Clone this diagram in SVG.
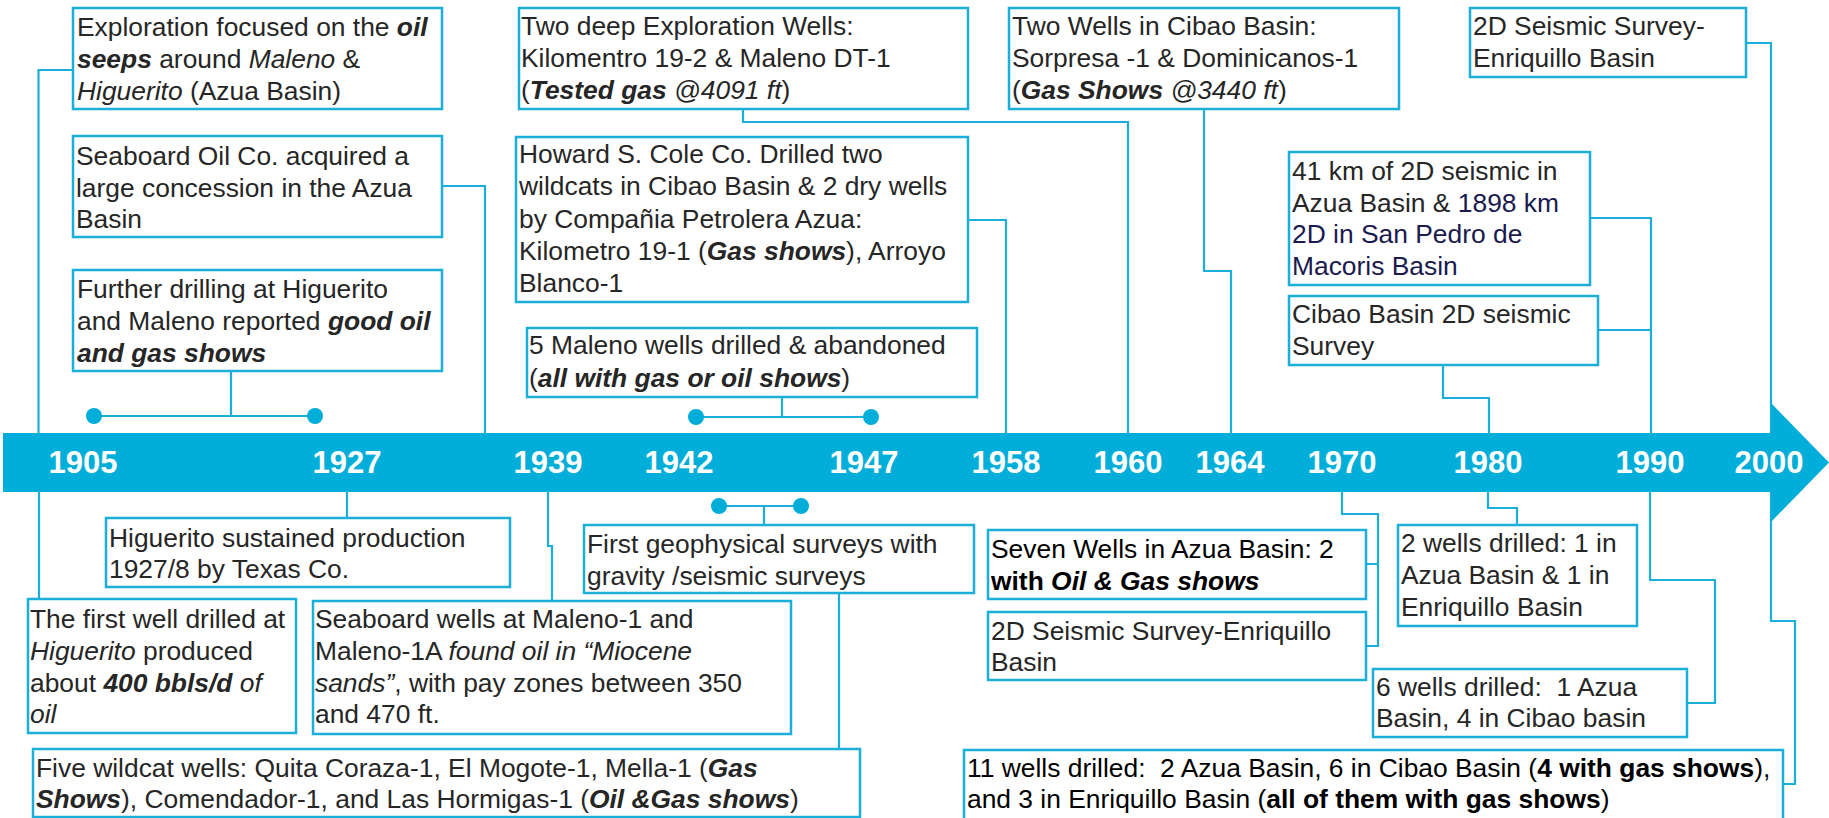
<svg xmlns="http://www.w3.org/2000/svg" width="1829" height="818" viewBox="0 0 1829 818">
<style>
.box{fill:#fff;stroke:#1AAFDB;stroke-width:2.5}
.ln{fill:none;stroke:#1AAFDB;stroke-width:2.2}
.dot{fill:#00AED9}
.t{font-family:"Liberation Sans",Arial,sans-serif;font-size:26.4px;fill:#262626;white-space:pre}
.k{fill:#000}
.i{font-style:italic}
.b{font-weight:bold}
.bi{font-weight:bold;font-style:italic}
.nv{fill:#1a1a50}
.yr{font-family:"Liberation Sans",Arial,sans-serif;font-size:31px;font-weight:bold;fill:#fff;text-anchor:middle}
</style>
<g id="connectors">
<path class="ln" d="M73,70 H38.5 V433"/>
<path class="ln" d="M442,186 H485 V433"/>
<path class="ln" d="M231,371 V416 M94,416 H315"/>
<path class="ln" d="M743,109 V122 H1128 V433"/>
<path class="ln" d="M968,220 H1006 V433"/>
<path class="ln" d="M782,397 V417 M696,417 H871"/>
<path class="ln" d="M1204,109 V271 H1231 V433"/>
<path class="ln" d="M1746,43 H1771 V621 H1795 V784 H1783"/>
<path class="ln" d="M1590,218 H1651 V433 M1598,330 H1651"/>
<path class="ln" d="M1443,365 V398 H1489 V433"/>
<path class="ln" d="M39,492 V599"/>
<path class="ln" d="M347,492 V518"/>
<path class="ln" d="M548,492 V546 H552 V601"/>
<path class="ln" d="M719,506 H801 M764,506 V525"/>
<path class="ln" d="M839,593 V749"/>
<path class="ln" d="M1342,492 V514 H1378 V646 H1366 M1378,564 H1366"/>
<path class="ln" d="M1488,492 V508 H1517 V525"/>
<path class="ln" d="M1650,492 V580 H1715 V703 H1687"/>
<circle class="dot" cx="94" cy="416" r="8"/>
<circle class="dot" cx="315" cy="416" r="8"/>
<circle class="dot" cx="696" cy="417" r="8"/>
<circle class="dot" cx="871" cy="417" r="8"/>
<circle class="dot" cx="719" cy="506" r="8"/>
<circle class="dot" cx="801" cy="506" r="8"/>
</g>
<g id="timeline">
<rect x="3" y="433" width="1770" height="59" fill="#00AED9"/>
<polygon points="1771,403 1829,462.5 1771,522" fill="#00AED9"/>
<text class="yr" x="83" y="473">1905</text>
<text class="yr" x="347" y="473">1927</text>
<text class="yr" x="548" y="473">1939</text>
<text class="yr" x="679" y="473">1942</text>
<text class="yr" x="864" y="473">1947</text>
<text class="yr" x="1006" y="473">1958</text>
<text class="yr" x="1128" y="473">1960</text>
<text class="yr" x="1230" y="473">1964</text>
<text class="yr" x="1342" y="473">1970</text>
<text class="yr" x="1488" y="473">1980</text>
<text class="yr" x="1650" y="473">1990</text>
<text class="yr" x="1769" y="473">2000</text>
</g>
<g id="n-exploration">
<rect class="box" x="73" y="8" width="369" height="101"/>
<text class="t" x="77" y="36">Exploration focused on the <tspan class="bi">oil</tspan></text>
<text class="t" x="77" y="68"><tspan class="bi">seeps</tspan> around <tspan class="i">Maleno</tspan> &amp;</text>
<text class="t" x="77" y="100"><tspan class="i">Higuerito</tspan> (Azua Basin)</text>
</g>
<g id="n-seaboard-oil">
<rect class="box" x="73" y="136" width="369" height="101"/>
<text class="t" x="76" y="165">Seaboard Oil Co. acquired a</text>
<text class="t" x="76" y="197">large concession in the Azua</text>
<text class="t" x="76" y="228">Basin</text>
</g>
<g id="n-further">
<rect class="box" x="73" y="270" width="369" height="101"/>
<text class="t" x="77" y="298">Further drilling at Higuerito</text>
<text class="t" x="77" y="330">and Maleno reported <tspan class="bi">good oil</tspan></text>
<text class="t" x="77" y="362"><tspan class="bi">and gas shows</tspan></text>
</g>
<g id="n-two-deep">
<rect class="box" x="519" y="8" width="449" height="101"/>
<text class="t" x="521" y="35">Two deep Exploration Wells:</text>
<text class="t" x="521" y="67">Kilomentro 19-2 &amp; Maleno DT-1</text>
<text class="t" x="521" y="99">(<tspan class="bi">Tested gas</tspan> <tspan class="i">@4091 ft</tspan>)</text>
</g>
<g id="n-howard">
<rect class="box" x="516" y="137" width="452" height="165"/>
<text class="t" x="519" y="163">Howard S. Cole Co. Drilled two</text>
<text class="t" x="519" y="195">wildcats in Cibao Basin &amp; 2 dry wells</text>
<text class="t" x="519" y="228">by Compañia Petrolera Azua:</text>
<text class="t" x="519" y="260">Kilometro 19-1 (<tspan class="bi">Gas shows</tspan>), Arroyo</text>
<text class="t" x="519" y="292">Blanco-1</text>
</g>
<g id="n-five-maleno">
<rect class="box" x="527" y="328" width="450" height="69"/>
<text class="t" x="529" y="354">5 Maleno wells drilled &amp; abandoned</text>
<text class="t" x="529" y="387">(<tspan class="bi">all with gas or oil shows</tspan>)</text>
</g>
<g id="n-two-wells-cibao">
<rect class="box" x="1009" y="8" width="390" height="101"/>
<text class="t" x="1012" y="35">Two Wells in Cibao Basin:</text>
<text class="t" x="1012" y="67">Sorpresa -1 &amp; Dominicanos-1</text>
<text class="t" x="1012" y="99">(<tspan class="bi">Gas Shows</tspan> <tspan class="i">@3440 ft</tspan>)</text>
</g>
<g id="n-2d-enriquillo-top">
<rect class="box" x="1470" y="8" width="276" height="69"/>
<text class="t" x="1473" y="35">2D Seismic Survey-</text>
<text class="t" x="1473" y="67">Enriquillo Basin</text>
</g>
<g id="n-41km">
<rect class="box" x="1289" y="152" width="301" height="133"/>
<text class="t" x="1292" y="180">41 km of 2D seismic in</text>
<text class="t" x="1292" y="212">Azua Basin &amp; <tspan class="nv">1898 km</tspan></text>
<text class="t nv" x="1292" y="243">2D in San Pedro de</text>
<text class="t nv" x="1292" y="275">Macoris Basin</text>
</g>
<g id="n-cibao-2d">
<rect class="box" x="1289" y="296" width="309" height="69"/>
<text class="t" x="1292" y="323">Cibao Basin 2D seismic</text>
<text class="t" x="1292" y="355">Survey</text>
</g>
<g id="n-higuerito-prod">
<rect class="box" x="106" y="518" width="404" height="69"/>
<text class="t" x="109" y="547">Higuerito sustained production</text>
<text class="t" x="109" y="578">1927/8 by Texas Co.</text>
</g>
<g id="n-first-well">
<rect class="box" x="28" y="599" width="268" height="134"/>
<text class="t" x="30" y="628">The first well drilled at</text>
<text class="t" x="30" y="660"><tspan class="i">Higuerito</tspan> produced</text>
<text class="t" x="30" y="692">about <tspan class="bi">400 bbls/d</tspan><tspan class="i"> of</tspan></text>
<text class="t i" x="30" y="723">oil</text>
</g>
<g id="n-seaboard-wells">
<rect class="box" x="313" y="601" width="478" height="133"/>
<text class="t" x="315" y="628">Seaboard wells at Maleno-1 and</text>
<text class="t" x="315" y="660">Maleno-1A <tspan class="i">found oil in “Miocene</tspan></text>
<text class="t" x="315" y="692"><tspan class="i">sands”</tspan>, with pay zones between 350</text>
<text class="t" x="315" y="723">and 470 ft.</text>
</g>
<g id="n-five-wildcat">
<rect class="box" x="33" y="749" width="827" height="68"/>
<text class="t" x="36" y="777">Five wildcat wells: Quita Coraza-1, El Mogote-1, Mella-1 (<tspan class="bi">Gas</tspan></text>
<text class="t" x="36" y="808"><tspan class="bi">Shows</tspan>), Comendador-1, and Las Hormigas-1 (<tspan class="bi">Oil &amp;Gas shows</tspan>)</text>
</g>
<g id="n-first-geophysical">
<rect class="box" x="584" y="525" width="390" height="68"/>
<text class="t" x="587" y="553">First geophysical surveys with</text>
<text class="t" x="587" y="585">gravity /seismic surveys</text>
</g>
<g id="n-seven-wells">
<rect class="box" x="988" y="530" width="378" height="69"/>
<text class="t k" x="991" y="558">Seven Wells in Azua Basin: 2</text>
<text class="t k" x="991" y="590"><tspan class="b">with </tspan><tspan class="bi">Oil &amp; Gas shows</tspan></text>
</g>
<g id="n-2d-enriquillo-1970">
<rect class="box" x="988" y="612" width="378" height="68"/>
<text class="t" x="991" y="640">2D Seismic Survey-Enriquillo</text>
<text class="t" x="991" y="671">Basin</text>
</g>
<g id="n-2-wells">
<rect class="box" x="1398" y="525" width="239" height="101"/>
<text class="t" x="1401" y="552">2 wells drilled: 1 in</text>
<text class="t" x="1401" y="584">Azua Basin &amp; 1 in</text>
<text class="t" x="1401" y="616">Enriquillo Basin</text>
</g>
<g id="n-6-wells">
<rect class="box" x="1373" y="669" width="314" height="68"/>
<text class="t" x="1376" y="696">6 wells drilled:  1 Azua</text>
<text class="t" x="1376" y="727">Basin, 4 in Cibao basin</text>
</g>
<g id="n-11-wells">
<rect class="box" x="964" y="750" width="819" height="80"/>
<text class="t k" x="967" y="777">11 wells drilled:  2 Azua Basin, 6 in Cibao Basin (<tspan class="b">4 with gas shows</tspan>),</text>
<text class="t k" x="967" y="808">and 3 in Enriquillo Basin (<tspan class="b">all of them with gas shows</tspan>)</text>
</g>
</svg>
